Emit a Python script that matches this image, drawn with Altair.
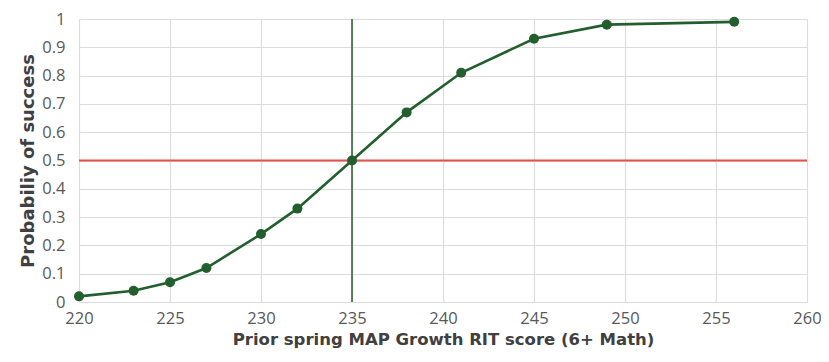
import altair as alt
import pandas as pd

rit = [220, 223, 225, 227, 230, 232, 235, 238, 241, 245, 249, 256]
prob = [0.02, 0.04, 0.07, 0.12, 0.24, 0.33, 0.50, 0.67, 0.81, 0.93, 0.98, 0.99]
threshold_x = [235]
threshold_y = [0.5]
x_ticks = [220, 225, 230, 235, 240, 245, 250, 255, 260]
y_ticks = [0, 0.1, 0.2, 0.3, 0.4, 0.5, 0.6, 0.7, 0.8, 0.9, 1]

df = pd.DataFrame({"rit": rit, "prob": prob})

LFONT = "Open Sans"
TFONT = "DejaVu Sans"
GREEN = "#235f2e"
RED = "#e8514a"

x_scale = alt.Scale(domain=[220, 260], nice=False)
y_scale = alt.Scale(domain=[0, 1], nice=False)
x_axis = alt.Axis(values=x_ticks, title="Prior spring MAP Growth RIT score (6+ Math)",
                  grid=True, domain=False, ticks=False, labelFlush=False,
                  labelPadding=8, titlePadding=5, titleFontSize=16.5)
y_axis = alt.Axis(values=y_ticks, title="Probabiliy of success",
                  grid=True, domain=False, ticks=False, labelFlush=False,
                  labelPadding=14, titlePadding=4, titleFontSize=18,
                  labelExpr="datum.value == 0 ? '0' : datum.value == 1 ? '1' : format(datum.value, '.1f')")

hline = alt.Chart(pd.DataFrame({"y": threshold_y})).mark_rule(color=RED, strokeWidth=1.8).encode(
    y=alt.Y("y:Q", scale=y_scale, axis=y_axis))
vline = alt.Chart(pd.DataFrame({"x": threshold_x})).mark_rule(color=GREEN, strokeWidth=1.5).encode(
    x=alt.X("x:Q", scale=x_scale, axis=x_axis))

line = alt.Chart(df).mark_line(color=GREEN, strokeWidth=2.6, point=alt.OverlayMarkDef(
    color=GREEN, size=100, filled=True, opacity=1)).encode(
    x=alt.X("rit:Q", scale=x_scale, axis=x_axis),
    y=alt.Y("prob:Q", scale=y_scale, axis=y_axis))

chart = alt.layer(hline, vline, line).properties(
    width=728, height=283,
    autosize=alt.AutoSizeParams(type="none"),
    padding={"left": 71, "top": 11, "right": 14, "bottom": 52},
).configure_view(stroke=None).configure_axis(
    gridColor="#dcdcdc", gridWidth=1.2,
    labelFont=LFONT, labelFontSize=16.5, labelColor="#595959",
    titleFont=TFONT, titleFontWeight="bold", titleColor="#404040",
)

chart.save("out.html", embed_options={"renderer": "svg", "actions": False})
